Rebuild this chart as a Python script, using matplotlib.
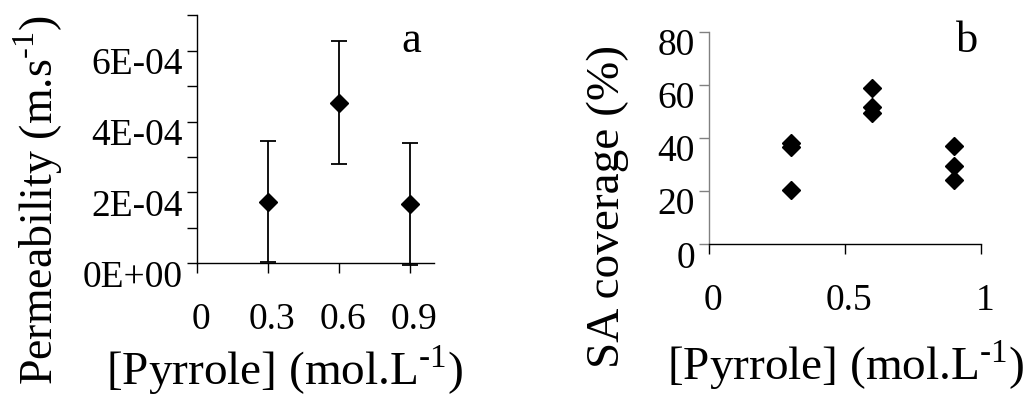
import matplotlib
matplotlib.use("Agg")
import matplotlib.pyplot as plt
from matplotlib.transforms import ScaledTranslation
from matplotlib.ticker import FixedLocator, MultipleLocator

plt.rcParams['font.family'] = ['Liberation Serif', 'DejaVu Serif']
plt.rcParams['mathtext.fontset'] = 'custom'
plt.rcParams['mathtext.rm'] = 'Liberation Serif'

# Panel a data
conc_a = [0.3, 0.6, 0.9]
perm = [1.74e-4, 4.53e-4, 1.67e-4]
perm_err = [1.71e-4, 1.73e-4, 1.72e-4]
xticks_a = [0, 0.3, 0.6, 0.9]
xticklabels_a = ["0", "0.3", "0.6", "0.9"]
yticks_a = [0, 2e-4, 4e-4, 6e-4]
yticklabels_a = ["0E+00", "2E-04", "4E-04", "6E-04"]

# Panel b data
conc_b = [0.3, 0.3, 0.3, 0.6, 0.6, 0.6, 0.9, 0.9, 0.9]
coverage = [38.0, 36.5, 20.4, 59.0, 51.5, 49.5, 37.1, 29.5, 24.2]
xticks_b = [0, 0.5, 1]
xticklabels_b = ["0", "0.5", "1"]
yticks_b = [0, 20, 40, 60, 80]
yticklabels_b = ["0", "20", "40", "60", "80"]

W, H = 1029, 398
fig = plt.figure(figsize=(W / 100, H / 100), dpi=100)

def px_axes(l, t, r, b):
    return fig.add_axes([l / W, 1 - b / H, (r - l) / W, (b - t) / H])

tick_fs = 27
lab_fs = 33
xlab_fs = 34
sup = r"$^{\text{-1}}$"

# ---------- panel a ----------
ax1 = px_axes(197, 15.2, 434, 263.3)
ax1.errorbar(conc_a, perm, yerr=perm_err, fmt='D', color='black', ms=9,
             ecolor='black', elinewidth=1.3, capsize=5.8, capthick=1.3,
             clip_on=False, zorder=3)
ax1.set_xlim(0, 1.0)
ax1.set_ylim(0, 7e-4)
ax1.xaxis.set_major_locator(FixedLocator(xticks_a))
ax1.set_xticklabels(xticklabels_a)
ax1.yaxis.set_major_locator(FixedLocator(yticks_a))
ax1.set_yticklabels(yticklabels_a)
ax1.yaxis.set_minor_locator(MultipleLocator(1e-4))
for s in ['top', 'right']:
    ax1.spines[s].set_visible(False)
for s in ['left', 'bottom']:
    ax1.spines[s].set_linewidth(1.0)
ax1.tick_params(axis='both', which='both', direction='out', length=7.2,
                width=1.0, labelsize=tick_fs, color='black')
ax1.tick_params(axis='x', pad=21)
ax1.tick_params(axis='y', pad=3)
fig.text(411 / W, 1 - 52 / H, "a", fontsize=32, ha='center', va='baseline')
fig.text(38 / W, 1 - 200 / H, "Permeability (m.s" + sup + ")",
         fontsize=lab_fs, rotation=90, ha='center', va='center')
fig.text(284.5 / W, 1 - 385 / H, "[Pyrrole] (mol.L" + sup + ")",
         fontsize=xlab_fs, ha='center', va='baseline')

# ---------- panel b ----------
ax2 = px_axes(709, 31.7, 981, 244.3)
ax2.plot(conc_b, coverage, 'D', color='black', ms=9, clip_on=False, zorder=3)
ax2.set_xlim(0, 1)
ax2.set_ylim(0, 80)
ax2.xaxis.set_major_locator(FixedLocator(xticks_b))
ax2.set_xticklabels(xticklabels_b)
ax2.yaxis.set_major_locator(FixedLocator(yticks_b))
ax2.set_yticklabels(yticklabels_b)
for s in ['top', 'right']:
    ax2.spines[s].set_visible(False)
ax2.spines['left'].set_color('#808080')
ax2.spines['left'].set_linewidth(1.0)
ax2.spines['bottom'].set_linewidth(1.0)
ax2.tick_params(axis='both', direction='out', length=7.2, width=1.0,
                labelsize=tick_fs)
ax2.tick_params(axis='y', color='#808080', pad=3)
ax2.tick_params(axis='x', color='black', pad=21)
fig.text(966.7 / W, 1 - 52 / H, "b", fontsize=32, ha='center', va='baseline')
fig.text(608 / W, 1 - 206 / H, "SA coverage (%)",
         fontsize=34, rotation=90, ha='center', va='center')
fig.text(846 / W, 1 - 380 / H, "[Pyrrole] (mol.L" + sup + ")",
         fontsize=xlab_fs, ha='center', va='baseline')

# Excel-like label offsets: y tick labels sit slightly lower, x labels slightly right
dy = ScaledTranslation(0, -10 / 100, fig.dpi_scale_trans)
dx = ScaledTranslation(4 / 100, 0, fig.dpi_scale_trans)
for ax in (ax1, ax2):
    for t in ax.yaxis.get_major_ticks():
        t.label1.set_transform(t.label1.get_transform() + dy)
    for t in ax.xaxis.get_major_ticks():
        t.label1.set_transform(t.label1.get_transform() + dx)

fig.savefig("out.png", dpi=100)
